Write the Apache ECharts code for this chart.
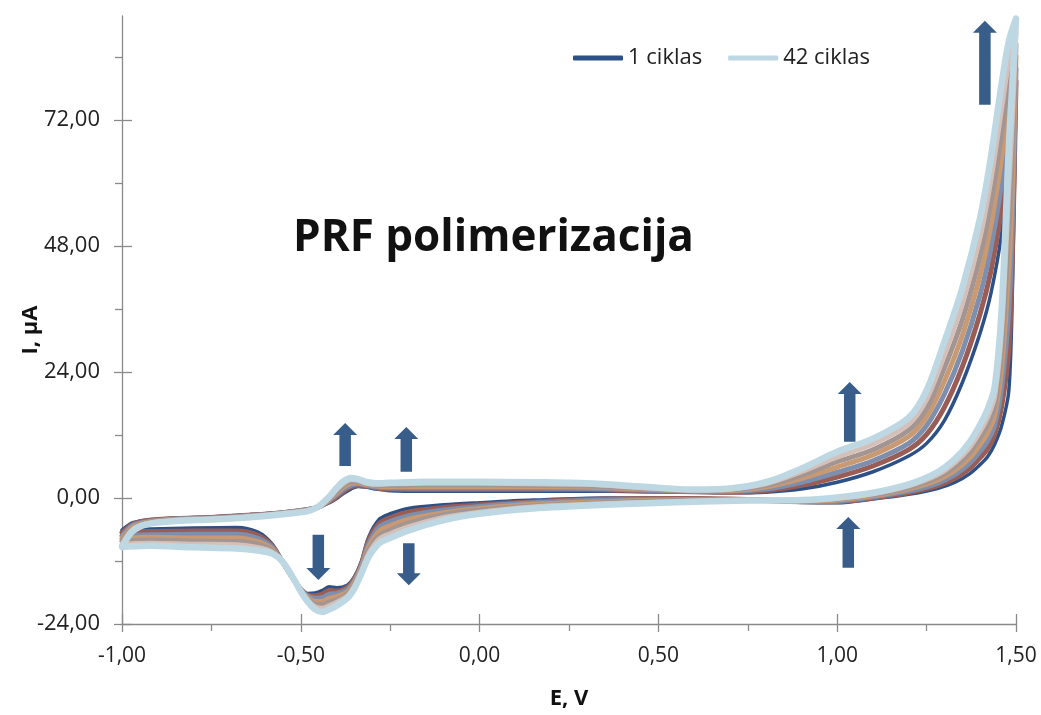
<!DOCTYPE html>
<html>
<head>
<meta charset="utf-8">
<script src="https://cdn.jsdelivr.net/npm/echarts@6/dist/echarts.min.js"></script>
<style>
  html, body { margin: 0; padding: 0; background: #ffffff; }
  #chart { width: 1041px; height: 715px; }
</style>
</head>
<body>
<div id="chart"></div>
<script>
// Potential sweep, V: forward -1.00 -> 1.50, then back to -1.00
const potential = [
  -1.00, -0.97, -0.93, -0.85, -0.75, -0.65, -0.55, -0.48, -0.45, -0.42,
  -0.40, -0.38, -0.36, -0.34, -0.32, -0.29, -0.25, -0.15, 0.00, 0.15,
  0.30, 0.45, 0.60, 0.70, 0.80, 0.90, 1.00, 1.10, 1.20, 1.25,
  1.30, 1.35, 1.40, 1.43, 1.46, 1.48, 1.50,
  1.49, 1.48, 1.46, 1.44, 1.42, 1.40, 1.37, 1.33, 1.28, 1.20,
  1.10, 1.00, 0.90, 0.75, 0.55, 0.35, 0.15, 0.00, -0.10, -0.20,
  -0.25, -0.28, -0.31, -0.33, -0.35, -0.37, -0.40, -0.42, -0.44, -0.46,
  -0.48, -0.50, -0.52, -0.55, -0.58, -0.62, -0.68, -0.80, -0.92, -0.97, -1.00
];

// Current, µA, for the recorded cycles (same sweep points as above)
const cycle1 = [
  -6.1, -4.7, -4.2, -3.8, -3.6, -3.2, -2.7, -2.1, -1.7, -0.9,
  -0.1, 0.9, 1.7, 2.2, 2.1, 1.7, 1.4, 1.3, 1.3, 1.3,
  1.3, 1.2, 1.1, 1.0, 1.1, 1.7, 3.0, 5.0, 8.0, 10.4,
  14.8, 22.0, 31.5, 39.0, 50.5, 64.0, 77.0,
  40.0, 20.5, 13.8, 10.2, 7.8, 6.4, 4.6, 3.0, 1.8, 0.7,
  -0.2, -0.9, -0.8, -0.3, 0.0, 0.0, -0.4, -0.9, -1.3, -2.0,
  -3.0, -4.0, -7.4, -12.0, -15.0, -16.6, -17.1, -16.9, -17.6, -18.1,
  -18.2, -17.3, -15.5, -12.3, -8.8, -6.5, -5.6, -5.7, -5.9, -6.0, -6.1
];
const cycle8 = [
  -6.6, -5.0, -4.3, -3.9, -3.7, -3.3, -2.8, -2.2, -1.7, -0.7,
  0.2, 1.3, 2.1, 2.4, 2.3, 1.9, 1.7, 1.6, 1.6, 1.6,
  1.6, 1.4, 1.2, 1.1, 1.4, 2.4, 4.0, 6.1, 9.2, 12.1,
  17.3, 25.0, 35.2, 43.3, 55.3, 67.8, 79.4,
  46.5, 28.3, 17.5, 12.0, 9.3, 7.7, 5.6, 3.8, 2.3, 1.0,
  0.0, -0.7, -0.7, -0.3, -0.1, -0.2, -0.7, -1.3, -1.8, -2.7,
  -3.8, -4.8, -8.0, -12.4, -15.4, -17.0, -17.7, -17.6, -18.3, -18.6,
  -18.5, -17.4, -15.5, -12.3, -9.1, -7.1, -6.3, -6.3, -6.4, -6.5, -6.6
];
const cycle15 = [
  -7.2, -5.2, -4.5, -4.0, -3.8, -3.4, -2.8, -2.2, -1.7, -0.5,
  0.6, 1.7, 2.4, 2.7, 2.4, 2.1, 1.9, 1.9, 1.9, 1.9,
  1.8, 1.5, 1.3, 1.3, 1.7, 3.0, 4.9, 7.1, 10.4, 13.8,
  19.8, 28.0, 38.8, 47.7, 60.0, 71.7, 81.8,
  53.0, 36.0, 21.2, 13.8, 10.8, 8.9, 6.6, 4.5, 2.8, 1.3,
  0.2, -0.6, -0.7, -0.4, -0.3, -0.4, -0.9, -1.6, -2.3, -3.4,
  -4.5, -5.5, -8.7, -12.8, -15.7, -17.4, -18.2, -18.3, -19.0, -19.1,
  -18.7, -17.5, -15.5, -12.3, -9.4, -7.7, -6.9, -6.9, -7.0, -7.1, -7.2
];
const cycle22 = [
  -7.7, -5.5, -4.6, -4.1, -3.9, -3.5, -2.9, -2.3, -1.7, -0.3,
  0.9, 2.1, 2.8, 2.9, 2.6, 2.3, 2.2, 2.2, 2.2, 2.2,
  2.1, 1.7, 1.4, 1.4, 2.1, 3.7, 5.9, 8.2, 11.7, 15.5,
  22.3, 31.0, 42.5, 52.0, 64.8, 75.5, 84.2,
  59.5, 43.8, 24.9, 15.6, 12.3, 10.2, 7.6, 5.3, 3.4, 1.7,
  0.4, -0.4, -0.6, -0.4, -0.4, -0.7, -1.2, -2.0, -2.8, -4.1,
  -5.3, -6.3, -9.3, -13.2, -16.1, -17.9, -18.8, -19.1, -19.7, -19.7,
  -19.0, -17.6, -15.5, -12.3, -9.7, -8.3, -7.6, -7.6, -7.5, -7.6, -7.7
];
const cycle28 = [
  -8.2, -5.8, -4.7, -4.2, -3.9, -3.5, -3.0, -2.4, -1.6, -0.1,
  1.2, 2.4, 3.1, 3.1, 2.8, 2.4, 2.4, 2.5, 2.5, 2.4,
  2.3, 1.9, 1.4, 1.5, 2.4, 4.3, 6.9, 9.2, 12.9, 17.1,
  24.8, 34.0, 46.2, 56.3, 69.5, 79.3, 86.5,
  66.0, 51.5, 28.6, 17.4, 13.8, 11.5, 8.6, 6.0, 3.9, 2.0,
  0.6, -0.2, -0.5, -0.4, -0.5, -0.9, -1.5, -2.3, -3.2, -4.8,
  -6.1, -7.1, -9.9, -13.5, -16.5, -18.3, -19.4, -19.8, -20.3, -20.2,
  -19.3, -17.6, -15.4, -12.2, -10.0, -8.8, -8.3, -8.2, -8.0, -8.1, -8.2
];
const cycle35 = [
  -8.8, -6.0, -4.9, -4.3, -4.0, -3.6, -3.0, -2.4, -1.6, 0.1,
  1.6, 2.8, 3.5, 3.4, 2.9, 2.6, 2.7, 2.8, 2.8, 2.7,
  2.6, 2.0, 1.5, 1.7, 2.7, 5.0, 7.8, 10.3, 14.1, 18.8,
  27.3, 37.0, 49.8, 60.7, 74.3, 83.2, 88.9,
  72.5, 59.3, 32.3, 19.2, 15.3, 12.7, 9.6, 6.8, 4.4, 2.3,
  0.8, -0.1, -0.5, -0.5, -0.7, -1.1, -1.7, -2.7, -3.7, -5.5,
  -6.8, -7.8, -10.6, -13.9, -16.8, -18.7, -19.9, -20.5, -21.0, -20.7,
  -19.5, -17.7, -15.4, -12.2, -10.3, -9.4, -8.9, -8.8, -8.6, -8.7, -8.8
];
const cycle42 = [
  -9.3, -6.3, -5.0, -4.4, -4.1, -3.7, -3.1, -2.5, -1.6, 0.3,
  1.9, 3.2, 3.8, 3.6, 3.1, 2.8, 2.9, 3.1, 3.1, 3.0,
  2.8, 2.2, 1.6, 1.8, 3.0, 5.6, 8.8, 11.3, 15.3, 20.5,
  29.8, 40.0, 53.5, 65.0, 79.0, 87.0, 91.3,
  79.0, 67.0, 36.0, 21.0, 16.8, 14.0, 10.6, 7.5, 4.9, 2.6,
  1.0, 0.1, -0.4, -0.5, -0.8, -1.3, -2.0, -3.0, -4.2, -6.2,
  -7.6, -8.6, -11.2, -14.3, -17.2, -19.1, -20.5, -21.2, -21.7, -21.2,
  -19.8, -17.8, -15.4, -12.2, -10.6, -10.0, -9.6, -9.4, -9.1, -9.2, -9.3
];

const cycleNumbers = [1, 8, 15, 22, 28, 35, 42];
const cycleCurrents = [cycle1, cycle8, cycle15, cycle22, cycle28, cycle35, cycle42];

// Tick values
const yTicks = [-24, 0, 24, 48, 72];
const yMinorTicks = [-12, 12, 36, 60, 84];

// Growth arrows: potential, tail current, tip current
const arrowE = [1.413, -0.376, -0.205, -0.451, -0.198, 1.035, 1.031];
const arrowTail = [74.9, 6.1, 5.0, -7.0, -8.6, 10.7, -13.3];
const arrowTip = [90.9, 14.3, 13.5, -15.6, -16.6, 22.1, -3.6];

// ---- styling ----
const FONT = 'Open Sans';
const cycleColors = ['#2d5186', '#9a5d55', '#7e8fae', '#c99a72', '#a39592', '#d5c0b9', '#bdd8e3'];
const cycleWidths = [3.5, 5, 5, 5, 5, 5, 6.5];
const axisGray = '#8a8a8a';
const arrowColor = '#385d8a';
const arrowShaft = 11.5, arrowHead = 24, arrowHeadLen = 12;

const fmt = v => v.toFixed(2).replace('.', ',');

const lineSeries = cycleNumbers.map((n, k) => ({
  name: n + ' ciklas',
  type: 'line',
  data: potential.map((e, i) => [e, cycleCurrents[k][i]]),
  showSymbol: false,
  symbol: 'none',
  smooth: 0.3,
  clip: true,
  lineStyle: { color: cycleColors[k], width: cycleWidths[k], cap: 'round', join: 'round' },
  itemStyle: { color: cycleColors[k] },
  emphasis: { disabled: true },
  z: 2 + k
}));

const arrowSeries = {
  type: 'custom',
  coordinateSystem: 'cartesian2d',
  data: arrowE.map((e, i) => [e, arrowTail[i], arrowTip[i]]),
  encode: { x: 0, y: [1, 2] },
  clip: false,
  z: 20,
  silent: true,
  renderItem: function (params, api) {
    const base = api.coord([api.value(0), api.value(1)]);
    const tip = api.coord([api.value(0), api.value(2)]);
    const dir = tip[1] < base[1] ? -1 : 1;
    const x = tip[0];
    const neck = tip[1] - dir * arrowHeadLen;
    const s = arrowShaft / 2, h = arrowHead / 2;
    return {
      type: 'polygon',
      shape: { points: [
        [x - s, base[1]], [x - s, neck], [x - h, neck], [x, tip[1]],
        [x + h, neck], [x + s, neck], [x + s, base[1]]
      ] },
      style: { fill: arrowColor }
    };
  }
};

const tickStyle = { color: axisGray, width: 1.3 };
const xBase = { type: 'value', min: -1, max: 1.5, interval: 0.5, position: 'bottom', splitLine: { show: false } };
const yBase = { type: 'value', min: -24, max: 91.8, interval: 24, position: 'left', splitLine: { show: false } };

const chart = echarts.init(document.getElementById('chart'), null, { renderer: 'canvas' });
chart.setOption({
  animation: false,
  backgroundColor: '#ffffff',
  textStyle: { fontFamily: FONT },
  title: {
    text: 'PRF polimerizacija',
    left: 288,
    top: 211,
    textStyle: { fontFamily: FONT, fontSize: 44, fontWeight: 'bold', color: '#111111' }
  },
  legend: {
    data: ['1 ciklas', '42 ciklas'],
    left: 568,
    top: 42,
    icon: 'roundRect',
    itemWidth: 50,
    itemHeight: 5,
    itemGap: 26,
    selectedMode: false,
    textStyle: { fontFamily: FONT, fontSize: 22, color: '#222222' }
  },
  grid: { left: 122, right: 25, top: 16, bottom: 91, containLabel: false, outerBoundsMode: 'none' },
  xAxis: [
    Object.assign({}, xBase, {
      name: 'E, V',
      nameLocation: 'middle',
      nameGap: 64,
      nameMoveOverlap: false,
      nameTextStyle: { fontFamily: FONT, fontSize: 22, fontWeight: 'bold', color: '#111111' },
      axisLine: { show: true, onZero: false, lineStyle: tickStyle },
      axisTick: { show: true, length: 8, lineStyle: tickStyle },
      minorTick: { show: true, splitNumber: 2, length: 7, lineStyle: tickStyle },
      axisLabel: { margin: 22, fontFamily: FONT, fontSize: 21, color: '#222222', formatter: fmt }
    }),
    Object.assign({}, xBase, {
      axisLine: { show: false, onZero: false },
      axisTick: { show: true, inside: true, length: 10, lineStyle: tickStyle },
      axisLabel: { show: false }
    })
  ],
  yAxis: [
    Object.assign({}, yBase, {
      name: 'I, μA',
      nameLocation: 'middle',
      nameGap: 80,
      nameRotate: 90,
      nameMoveOverlap: false,
      nameTextStyle: { fontFamily: FONT, fontSize: 22, fontWeight: 'bold', color: '#111111', padding: [0, 20, 0, 0] },
      axisLine: { show: true, onZero: false, lineStyle: tickStyle },
      axisTick: { show: true, length: 8, customValues: yTicks, lineStyle: tickStyle },
      axisLabel: { margin: 22, fontFamily: FONT, fontSize: 22, color: '#222222', customValues: yTicks, formatter: fmt }
    }),
    Object.assign({}, yBase, {
      axisLine: { show: false, onZero: false },
      axisTick: { show: true, inside: true, length: 10, customValues: yTicks, lineStyle: tickStyle },
      axisLabel: { show: false }
    }),
    Object.assign({}, yBase, {
      axisLine: { show: false, onZero: false },
      axisTick: { show: true, length: 7, customValues: yMinorTicks, lineStyle: tickStyle },
      axisLabel: { show: false }
    })
  ],
  series: lineSeries.concat([arrowSeries])
});
</script>
</body>
</html>
